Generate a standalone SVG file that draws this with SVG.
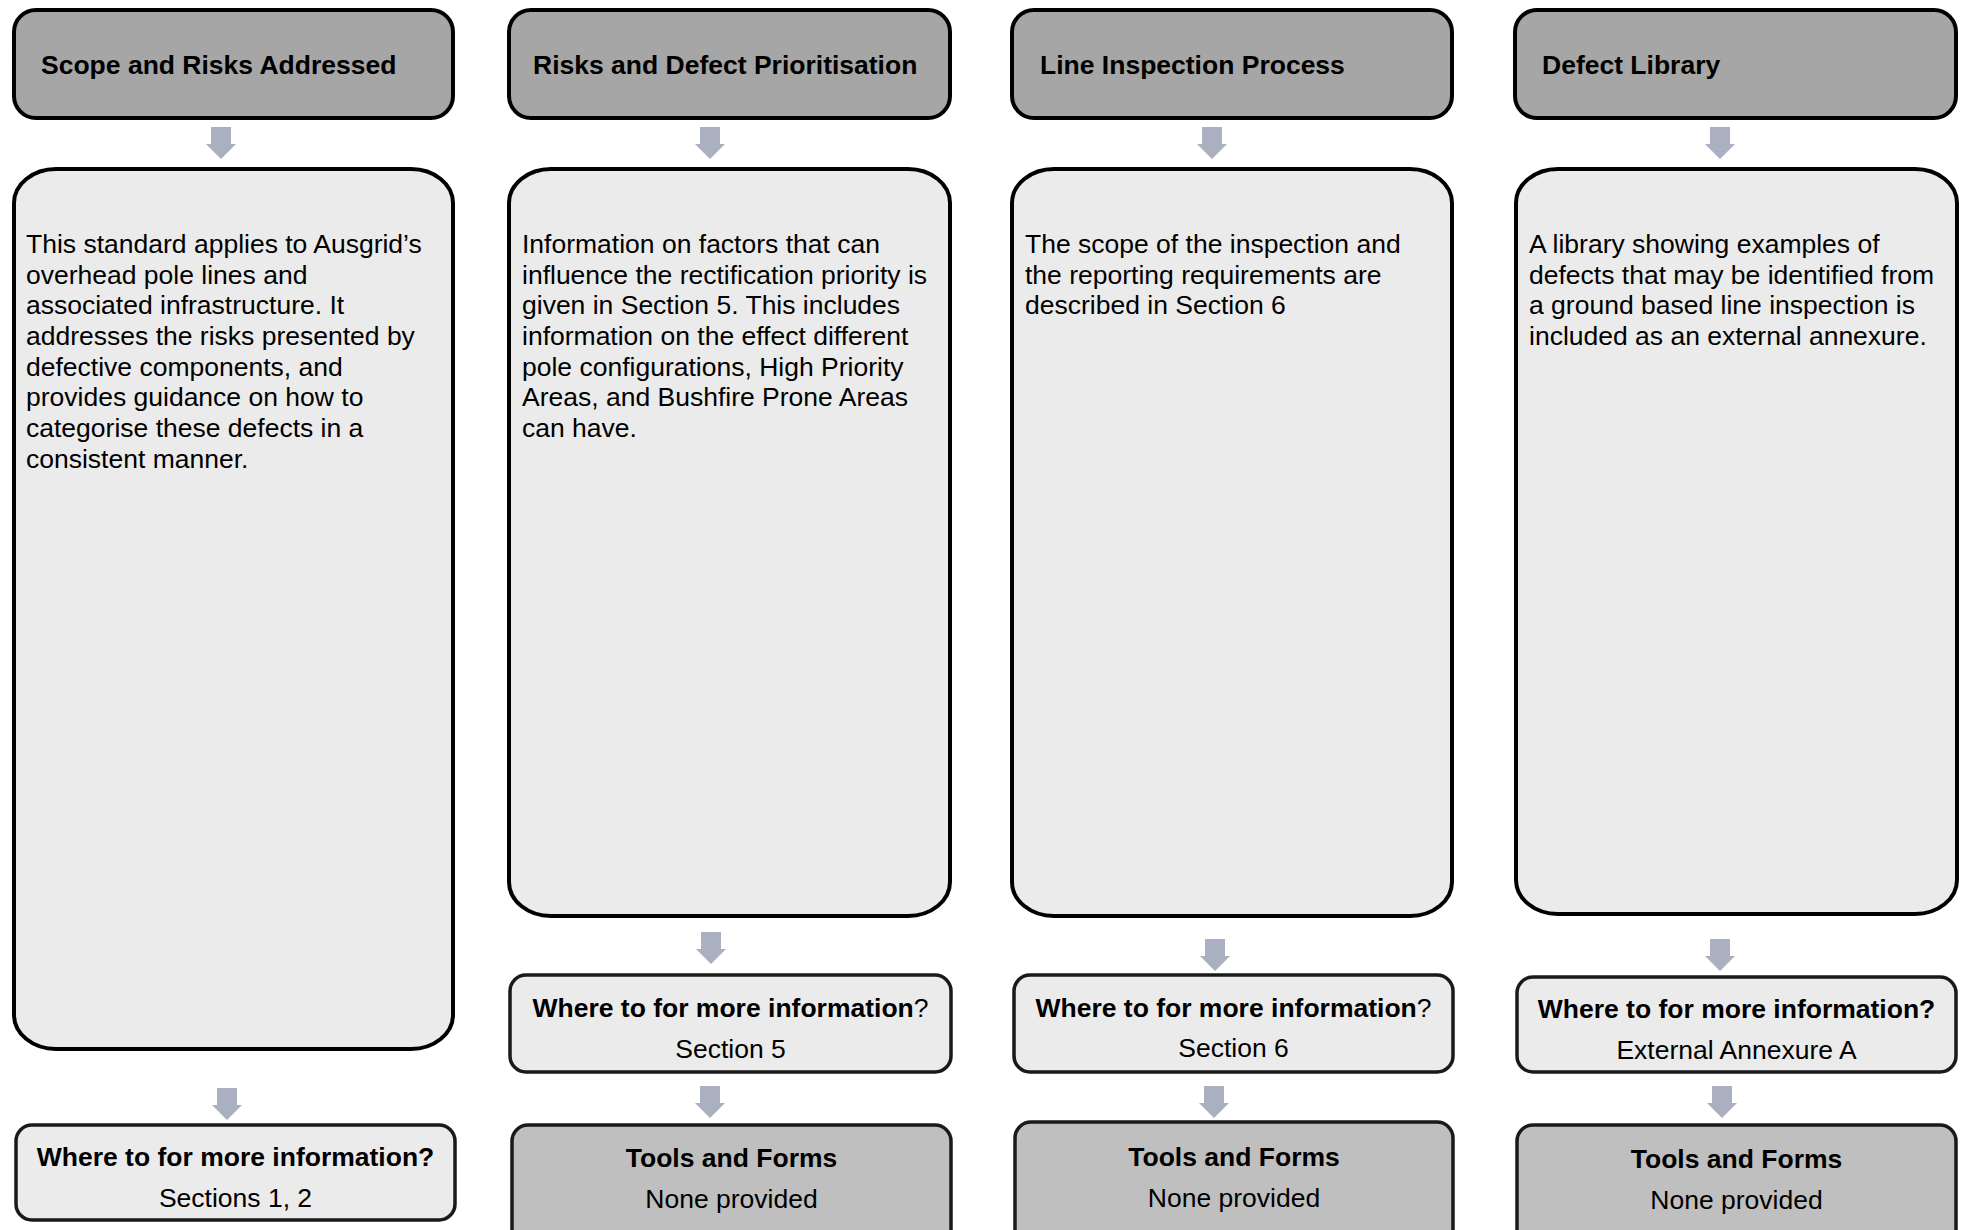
<svg xmlns="http://www.w3.org/2000/svg" width="1962" height="1230" viewBox="0 0 1962 1230">
<defs>
<style>
text{font-family:"Liberation Sans",Arial,sans-serif;font-size:26.5px;fill:#000}
.b{font-weight:bold}
.hdr{fill:#a6a6a6;stroke:#000;stroke-width:4}
.body{fill:#ebebeb;stroke:#000;stroke-width:4}
.info{fill:#ebebeb;stroke:#1a1a1a;stroke-width:3.5}
.tools{fill:#bfbfbf;stroke:#1a1a1a;stroke-width:3.5}
.arrow{fill:#aab0bf}
.c{text-anchor:middle}
</style>
<path id="arr" d="M-10,0 H10 V17 H15 L0,32 L-15,17 H-10 Z"/>
</defs>
<rect width="1962" height="1230" fill="#fff"/>

<g id="connectors">
<use href="#arr" class="arrow" x="221" y="127"/>
<use href="#arr" class="arrow" x="227" y="1088"/>
<use href="#arr" class="arrow" x="710" y="127"/>
<use href="#arr" class="arrow" x="711" y="932"/>
<use href="#arr" class="arrow" x="710" y="1086"/>
<use href="#arr" class="arrow" x="1212" y="127"/>
<use href="#arr" class="arrow" x="1215" y="939"/>
<use href="#arr" class="arrow" x="1214" y="1086"/>
<use href="#arr" class="arrow" x="1720" y="127"/>
<use href="#arr" class="arrow" x="1720" y="939"/>
<use href="#arr" class="arrow" x="1722" y="1086"/>
</g>

<!-- Column 1 -->
<g id="hdr1">
<rect class="hdr" x="14" y="10" width="439" height="108" rx="22"/>
<text class="b" x="41" y="74">Scope and Risks Addressed</text>
</g>
<g id="body1">
<rect class="body" x="14" y="169" width="439" height="880" rx="42" ry="34"/>
<text x="26" y="253">This standard applies to Ausgrid’s</text>
<text x="26" y="283.65">overhead pole lines and</text>
<text x="26" y="314.3">associated infrastructure. It</text>
<text x="26" y="344.95">addresses the risks presented by</text>
<text x="26" y="375.6">defective components, and</text>
<text x="26" y="406.25">provides guidance on how to</text>
<text x="26" y="436.9">categorise these defects in a</text>
<text x="26" y="467.55">consistent manner.</text>
</g>
<g id="info1">
<rect class="info" x="16" y="1125" width="439" height="95" rx="16"/>
<text class="b c" x="235.5" y="1166">Where to for more information?</text>
<text class="c" x="235.5" y="1207">Sections 1, 2</text>
</g>

<!-- Column 2 -->
<g id="hdr2">
<rect class="hdr" x="509" y="10" width="441" height="108" rx="22"/>
<text class="b" x="533" y="74">Risks and Defect Prioritisation</text>
</g>
<g id="body2">
<rect class="body" x="509" y="169" width="441" height="747" rx="42" ry="34"/>
<text x="522" y="253">Information on factors that can</text>
<text x="522" y="283.65">influence the rectification priority is</text>
<text x="522" y="314.3">given in Section 5. This includes</text>
<text x="522" y="344.95">information on the effect different</text>
<text x="522" y="375.6">pole configurations, High Priority</text>
<text x="522" y="406.25">Areas, and Bushfire Prone Areas</text>
<text x="522" y="436.9">can have.</text>
</g>
<g id="info2">
<rect class="info" x="510" y="975" width="441" height="97" rx="16"/>
<text class="c" x="730.5" y="1017"><tspan class="b">Where to for more information</tspan>?</text>
<text class="c" x="730.5" y="1058">Section 5</text>
</g>
<g id="tools2">
<rect class="tools" x="512" y="1125" width="439" height="130" rx="16"/>
<text class="b c" x="731.5" y="1167">Tools and Forms</text>
<text class="c" x="731.5" y="1208">None provided</text>
</g>

<!-- Column 3 -->
<g id="hdr3">
<rect class="hdr" x="1012" y="10" width="440" height="108" rx="22"/>
<text class="b" x="1040" y="74">Line Inspection Process</text>
</g>
<g id="body3">
<rect class="body" x="1012" y="169" width="440" height="747" rx="42" ry="34"/>
<text x="1025" y="253">The scope of the inspection and</text>
<text x="1025" y="283.65">the reporting requirements are</text>
<text x="1025" y="314.3">described in Section 6</text>
</g>
<g id="info3">
<rect class="info" x="1014" y="975" width="439" height="97" rx="16"/>
<text class="c" x="1233.5" y="1017"><tspan class="b">Where to for more information</tspan>?</text>
<text class="c" x="1233.5" y="1057">Section 6</text>
</g>
<g id="tools3">
<rect class="tools" x="1015" y="1122" width="438" height="133" rx="16"/>
<text class="b c" x="1234" y="1166">Tools and Forms</text>
<text class="c" x="1234" y="1207">None provided</text>
</g>

<!-- Column 4 -->
<g id="hdr4">
<rect class="hdr" x="1515" y="10" width="441" height="108" rx="22"/>
<text class="b" x="1542" y="74">Defect Library</text>
</g>
<g id="body4">
<rect class="body" x="1516" y="169" width="441" height="745" rx="42" ry="34"/>
<text x="1529" y="253">A library showing examples of</text>
<text x="1529" y="283.65">defects that may be identified from</text>
<text x="1529" y="314.3">a ground based line inspection is</text>
<text x="1529" y="344.95">included as an external annexure.</text>
</g>
<g id="info4">
<rect class="info" x="1517" y="977" width="439" height="95" rx="16"/>
<text class="b c" x="1736.5" y="1018">Where to for more information?</text>
<text class="c" x="1736.5" y="1059">External Annexure A</text>
</g>
<g id="tools4">
<rect class="tools" x="1517" y="1125" width="439" height="130" rx="16"/>
<text class="b c" x="1736.5" y="1168">Tools and Forms</text>
<text class="c" x="1736.5" y="1209">None provided</text>
</g>
</svg>
